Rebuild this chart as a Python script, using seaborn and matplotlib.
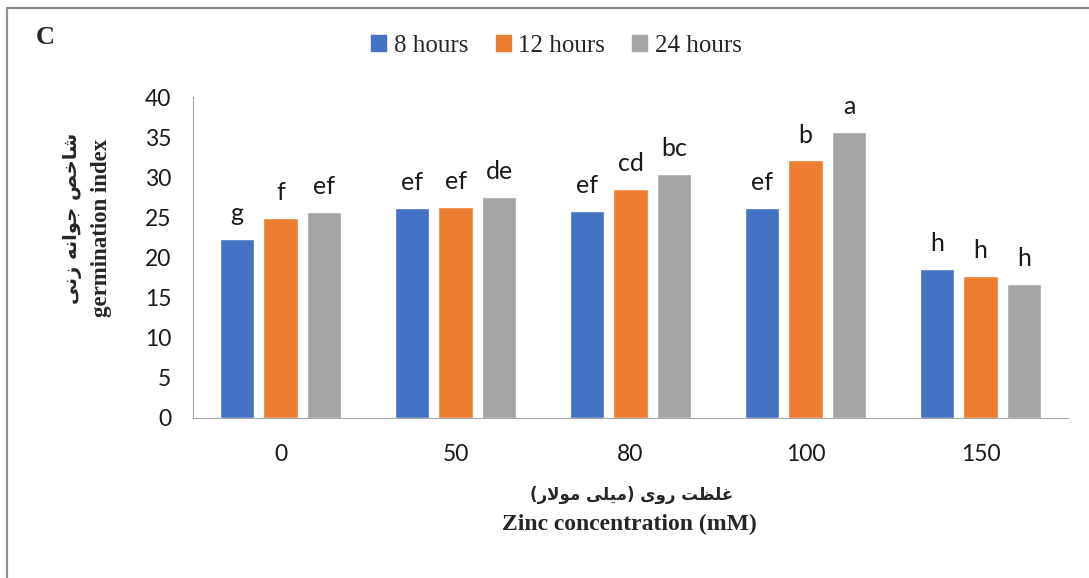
import pandas as pd
import matplotlib.pyplot as plt
import seaborn as sns
from matplotlib.patches import Patch
from matplotlib.lines import Line2D

# data
concentrations = ['0', '50', '80', '100', '150']
times = ['8 hours', '12 hours', '24 hours']
gi_8h = [22.3, 26.2, 25.8, 26.2, 18.6]
gi_12h = [24.9, 26.3, 28.5, 32.1, 17.7]
gi_24h = [25.7, 27.6, 30.4, 35.7, 16.7]
letters_8h = ['g', 'ef', 'ef', 'ef', 'h']
letters_12h = ['f', 'ef', 'cd', 'b', 'h']
letters_24h = ['ef', 'de', 'bc', 'a', 'h']

colors = ['#4472C4', '#ED7D31', '#A5A5A5']

ylabel_fa = 'شاخص جوانه زنی'
xlabel_fa = 'غلظت روی (میلی مولار)'

# minimal Persian shaping (contextual forms + right-to-left order)
FORMS = {
    'ا': ('\uFE8D', '\uFE8E', None, None),
    'ت': ('\uFE95', '\uFE96', '\uFE97', '\uFE98'),
    'ج': ('\uFE9D', '\uFE9E', '\uFE9F', '\uFEA0'),
    'خ': ('\uFEA5', '\uFEA6', '\uFEA7', '\uFEA8'),
    'ر': ('\uFEAD', '\uFEAE', None, None),
    'ز': ('\uFEAF', '\uFEB0', None, None),
    'ش': ('\uFEB5', '\uFEB6', '\uFEB7', '\uFEB8'),
    'ص': ('\uFEB9', '\uFEBA', '\uFEBB', '\uFEBC'),
    'ظ': ('\uFEC5', '\uFEC6', '\uFEC7', '\uFEC8'),
    'غ': ('\uFECD', '\uFECE', '\uFECF', '\uFED0'),
    'ل': ('\uFEDD', '\uFEDE', '\uFEDF', '\uFEE0'),
    'م': ('\uFEE1', '\uFEE2', '\uFEE3', '\uFEE4'),
    'ن': ('\uFEE5', '\uFEE6', '\uFEE7', '\uFEE8'),
    'ه': ('\uFEE9', '\uFEEA', '\uFEEB', '\uFEEC'),
    'و': ('\uFEED', '\uFEEE', None, None),
    'ی': ('\uFEEF', '\uFEF0', '\uFEF3', '\uFEF4'),
    'لا': ('\uFEFB', '\uFEFC', None, None),
}


def shape_fa(text):
    tokens = []
    i = 0
    while i < len(text):
        if text[i] == 'ل' and i + 1 < len(text) and text[i + 1] == 'ا':
            tokens.append('لا')
            i += 2
        else:
            tokens.append(text[i])
            i += 1
    out = []
    for k, t in enumerate(tokens):
        if t not in FORMS:
            out.append(t)
            continue
        prev = tokens[k - 1] if k > 0 else None
        nxt = tokens[k + 1] if k + 1 < len(tokens) else None
        join_prev = prev in FORMS and FORMS[prev][2] is not None
        join_next = FORMS[t][2] is not None and nxt in FORMS
        iso, fin, ini, med = FORMS[t]
        if join_prev and join_next:
            out.append(med)
        elif join_prev:
            out.append(fin)
        elif join_next:
            out.append(ini)
        else:
            out.append(iso)
    vis = ''.join(reversed(out))
    return vis.translate(str.maketrans('()', ')('))


df = pd.DataFrame({
    'conc': concentrations * 3,
    'time': [t for t in times for _ in concentrations],
    'gi': gi_8h + gi_12h + gi_24h,
})

sns.set_style('white')
fig = plt.figure(figsize=(10.89, 5.78), dpi=100)
ax = fig.add_axes([193 / 1089, 1 - 418 / 578, 875 / 1089, 321 / 578])

sns.barplot(data=df, x='conc', y='gi', hue='time', order=concentrations,
            hue_order=times, palette=colors, saturation=1, width=0.75,
            gap=0.22, ax=ax, legend=False)

for cont, labs in zip(ax.containers, [letters_8h, letters_12h, letters_24h]):
    ax.bar_label(cont, labels=labs, padding=10, fontsize=18,
                 family='Lato', color='#1a1a1a')

ax.set_ylim(0, 40)
ax.set_yticks(range(0, 41, 5))
ax.set_xlabel('')
ax.set_ylabel('')
sns.despine(ax=ax)
ax.spines['left'].set_color('#A6A6A6')
ax.spines['bottom'].set_color('#A6A6A6')
ax.tick_params(axis='y', length=6.5, color='#A6A6A6', pad=9, labelsize=16.5)
ax.tick_params(axis='x', length=0, pad=19, labelsize=16.5)
for lab in ax.get_xticklabels() + ax.get_yticklabels():
    lab.set_family('Lato')
    lab.set_color('#1a1a1a')

handles = [Patch(color=c) for c in colors]
fig.legend(handles, times, loc='center', bbox_to_anchor=(0.511, 0.921),
           ncol=3, frameon=False, handlelength=0.6, handleheight=0.6,
           handletextpad=0.3, columnspacing=1.1,
           prop={'family': 'Liberation Serif', 'size': 18})

fig.text(45 / 1089, 1 - 37 / 578, 'C', family='Liberation Serif',
         fontweight='bold', fontsize=19, ha='center', va='center')

fig.text(73 / 1089, 1 - 218 / 578, shape_fa(ylabel_fa), family='DejaVu Sans',
         fontweight='bold', fontsize=14, rotation=90, ha='center', va='center')
fig.text(102 / 1089, 1 - 228 / 578, 'germination index',
         family='Liberation Serif', fontweight='bold', fontsize=16.5,
         rotation=90, ha='center', va='center')
fig.text(632 / 1089, 1 - 495 / 578, shape_fa(xlabel_fa), family='DejaVu Sans',
         fontweight='bold', fontsize=12, ha='center', va='center')
fig.text(629 / 1089, 1 - 524 / 578, 'Zinc concentration (mM)',
         family='Liberation Serif', fontweight='bold', fontsize=17,
         ha='center', va='center')

# frame lines along the top and left edge
fig.add_artist(Line2D([7 / 1089, 1], [1 - 7.5 / 578] * 2,
                      transform=fig.transFigure, color='#8c8c8c', lw=1.6))
fig.add_artist(Line2D([7 / 1089] * 2, [0, 1 - 7.5 / 578],
                      transform=fig.transFigure, color='#8c8c8c', lw=1.6))

fig.savefig('out.png', dpi=100)
